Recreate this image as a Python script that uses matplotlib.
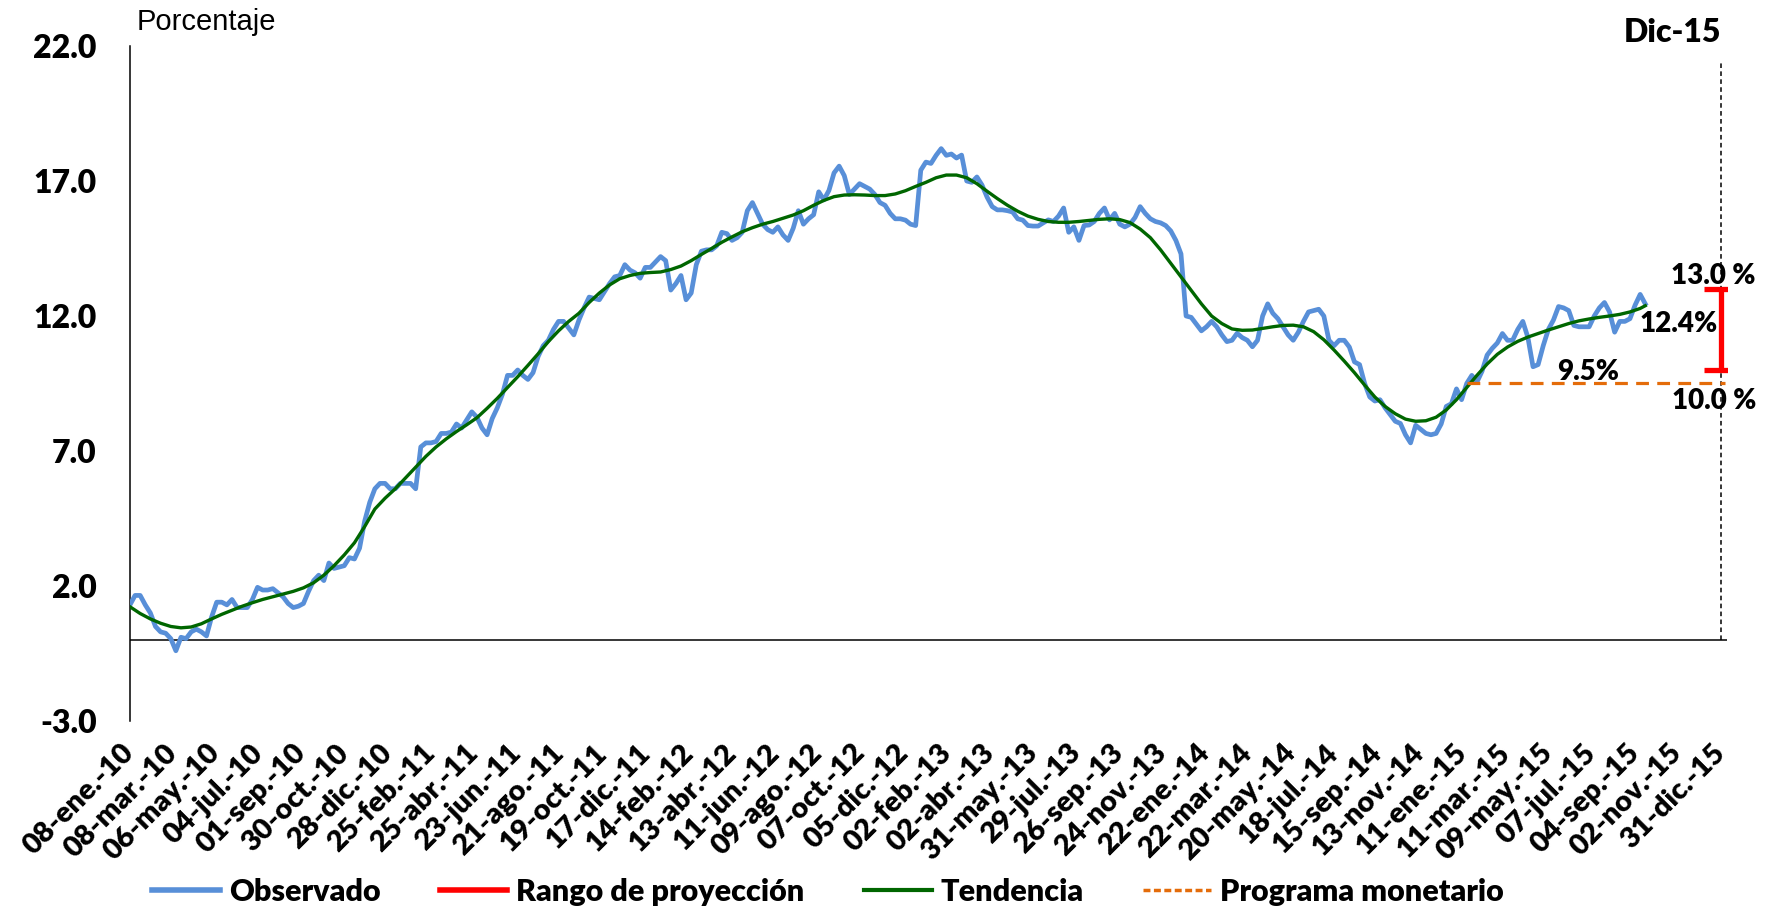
import matplotlib
matplotlib.use("Agg")
import matplotlib.pyplot as plt
from matplotlib.lines import Line2D
import pandas as pd

plt.rcParams['font.family'] = ['Lato', 'DejaVu Sans']

# Observado: datos semanales desde el 08-ene-10
observado = [
    1.3, 1.65, 1.65, 1.3, 1.0, 0.5, 0.3, 0.25, 0.05, -0.4,
    0.1, 0.05, 0.3, 0.4, 0.3, 0.15, 0.85, 1.4, 1.4, 1.3,
    1.5, 1.2, 1.2, 1.2, 1.5, 1.95, 1.85, 1.85, 1.9, 1.75,
    1.6, 1.35, 1.2, 1.25, 1.35, 1.8, 2.2, 2.4, 2.2, 2.85,
    2.65, 2.7, 2.75, 3.05, 3.0, 3.4, 4.4, 5.1, 5.6, 5.8,
    5.8, 5.6, 5.6, 5.8, 5.8, 5.8, 5.6, 7.15, 7.3, 7.3,
    7.35, 7.65, 7.65, 7.7, 8.0, 7.85, 8.15, 8.45, 8.25, 7.85,
    7.6, 8.2, 8.6, 9.1, 9.8, 9.8, 10.0, 9.8, 9.65, 9.9,
    10.5, 10.9, 11.1, 11.5, 11.8, 11.8, 11.55, 11.3, 11.85, 12.3,
    12.7, 12.65, 12.6, 12.9, 13.2, 13.45, 13.5, 13.9, 13.7, 13.6,
    13.4, 13.8, 13.8, 14.0, 14.2, 14.05, 12.96, 13.2, 13.5, 12.6,
    12.85, 13.9, 14.4, 14.45, 14.45, 14.6, 15.1, 15.05, 14.8, 14.9,
    15.1, 15.9, 16.2, 15.8, 15.4, 15.2, 15.1, 15.3, 15.0, 14.8,
    15.25, 15.9, 15.4, 15.6, 15.75, 16.6, 16.3, 16.65, 17.3, 17.55,
    17.2, 16.5, 16.7, 16.9, 16.8, 16.7, 16.5, 16.2, 16.1, 15.8,
    15.6, 15.6, 15.55, 15.4, 15.35, 17.4, 17.7, 17.65, 17.95, 18.2,
    17.95, 18.0, 17.85, 17.96, 17.0, 16.95, 17.15, 16.85, 16.4, 16.05,
    15.93, 15.93, 15.9, 15.85, 15.6, 15.55, 15.35, 15.33, 15.33, 15.45,
    15.56, 15.5, 15.7, 16.0, 15.1, 15.3, 14.8, 15.35, 15.37, 15.5,
    15.8, 16.0, 15.56, 15.8, 15.4, 15.3, 15.4, 15.65, 16.05, 15.8,
    15.6, 15.5, 15.45, 15.35, 15.15, 14.8, 14.3, 12.0, 11.95, 11.7,
    11.45, 11.6, 11.8, 11.6, 11.3, 11.05, 11.1, 11.36, 11.2, 11.1,
    10.86, 11.1, 12.0, 12.45, 12.1, 11.9, 11.6, 11.3, 11.1, 11.4,
    11.8, 12.15, 12.2, 12.25, 12.0, 11.1, 10.9, 11.1, 11.1, 10.85,
    10.3, 10.2, 9.5, 9.0, 8.85, 8.9, 8.6, 8.35, 8.1, 8.02,
    7.6, 7.3, 7.95, 7.8, 7.65, 7.6, 7.65, 8.0, 8.65, 8.75,
    9.3, 8.9, 9.5, 9.8, 9.55, 9.95, 10.55, 10.8, 11.0, 11.35,
    11.1, 11.1, 11.5, 11.8, 11.2, 10.12, 10.2, 10.9, 11.5, 11.85,
    12.35, 12.3, 12.2, 11.65, 11.6, 11.6, 11.6, 12.0, 12.3, 12.5,
    12.15, 11.4, 11.8, 11.8, 11.9, 12.4, 12.8, 12.45,
]

# Tendencia: cada 2 semanas desde el 08-ene-10, más el último dato
tendencia = [
    1.23, 0.98, 0.78, 0.62, 0.5, 0.45, 0.48, 0.6, 0.78, 0.95,
    1.1, 1.25, 1.38, 1.5, 1.6, 1.7, 1.8, 1.93, 2.12, 2.4,
    2.75, 3.15, 3.6, 4.2, 4.85, 5.25, 5.6, 6.0, 6.4, 6.8,
    7.15, 7.45, 7.72, 7.97, 8.23, 8.58, 8.95, 9.35, 9.75, 10.17,
    10.6, 11.05, 11.45, 11.8, 12.1, 12.5, 12.85, 13.15, 13.38, 13.5,
    13.58, 13.61, 13.63, 13.72, 13.85, 14.05, 14.28, 14.5, 14.73, 14.93,
    15.12, 15.27, 15.4, 15.5, 15.62, 15.74, 15.9, 16.1, 16.28, 16.42,
    16.48, 16.49, 16.48, 16.46, 16.46, 16.52, 16.64, 16.8, 16.95, 17.12,
    17.22, 17.22, 17.12, 16.9, 16.62, 16.35, 16.1, 15.88, 15.7, 15.58,
    15.5, 15.47, 15.47, 15.5, 15.54, 15.58, 15.6, 15.57, 15.46, 15.22,
    14.9, 14.45, 13.95, 13.45, 12.95, 12.45, 12.0, 11.72, 11.52, 11.47,
    11.48, 11.54, 11.6, 11.65, 11.66, 11.6, 11.42, 11.12, 10.74, 10.33,
    9.9, 9.44, 9.0, 8.65, 8.38, 8.18, 8.1, 8.12, 8.25, 8.52,
    8.9, 9.35, 9.8, 10.22, 10.58, 10.85, 11.06, 11.22, 11.35, 11.48,
    11.6, 11.72, 11.82, 11.89, 11.95, 12.0, 12.06, 12.15, 12.28, 12.38,
]

rango_min = 10.0
rango_max = 13.0
programa = 9.5
programa_desde = "2015-01-16"
programa_hasta = "2016-01-06"
fecha_meta = "2015-12-31"

tick_labels = [
    "08-ene.-10", "08-mar.-10", "06-may.-10", "04-jul.-10", "01-sep.-10",
    "30-oct.-10", "28-dic.-10", "25-feb.-11", "25-abr.-11", "23-jun.-11",
    "21-ago.-11", "19-oct.-11", "17-dic.-11", "14-feb.-12", "13-abr.-12",
    "11-jun.-12", "09-ago.-12", "07-oct.-12", "05-dic.-12", "02-feb.-13",
    "02-abr.-13", "31-may.-13", "29-jul.-13", "26-sep.-13", "24-nov.-13",
    "22-ene.-14", "22-mar.-14", "20-may.-14", "18-jul.-14", "15-sep.-14",
    "13-nov.-14", "11-ene.-15", "11-mar.-15", "09-may.-15", "07-jul.-15",
    "04-sep.-15", "02-nov.-15", "31-dic.-15",
]

obs_dates = pd.date_range("2010-01-08", periods=len(observado), freq="7D")
tend_dates = pd.date_range("2010-01-08", periods=len(tendencia) - 1, freq="14D")
tend_dates = tend_dates.append(pd.DatetimeIndex([obs_dates[-1]]))
tick_dates = pd.date_range("2010-01-08", periods=len(tick_labels), freq="59D")

c_obs = "#588fd8"
c_tend = "#006600"
c_rango = "#ff0000"
c_prog = "#e46c0a"
peso = "heavy"

fig = plt.figure(figsize=(17.73, 9.11), dpi=100)
ax = fig.add_axes([0.0733, 0.2086, 0.9007, 0.7409])

ax.plot(obs_dates, observado, color=c_obs, lw=3.4, solid_joinstyle="round", zorder=3)
ax.plot(tend_dates, tendencia, color=c_tend, lw=2.4, zorder=4)
ax.plot(pd.to_datetime([programa_desde, programa_hasta]), [programa, programa],
        color=c_prog, lw=2.3, dashes=(4, 2.6), zorder=4)

meta = pd.Timestamp(fecha_meta)
ax.plot([meta, meta], [0, 21.4], color="black", lw=1.1, dashes=(3, 2.2), zorder=2)
ax.errorbar([meta], [(rango_min + rango_max) / 2], yerr=[[(rango_max - rango_min) / 2]],
            fmt="none", ecolor=c_rango, elinewidth=3.8, capsize=12, capthick=3.8, zorder=5)

ax.axhline(0, color="black", lw=1.1, zorder=1)

ax.set_ylim(-3, 22)
ax.set_xlim(pd.Timestamp("2010-01-08"), pd.Timestamp("2016-01-08"))
ax.set_yticks([-3, 2, 7, 12, 17, 22])
ax.set_yticklabels([f"{v:.1f}" for v in [-3, 2, 7, 12, 17, 22]], fontsize=23, fontweight=peso)
ax.tick_params(axis="y", length=0, pad=24)
ax.set_xticks(tick_dates)
ax.set_xticklabels(tick_labels, fontsize=21, fontweight=peso, rotation=45,
                   ha="right", va="center", rotation_mode="anchor")
ax.tick_params(axis="x", length=0, pad=20)

for s in ["top", "right", "bottom"]:
    ax.spines[s].set_visible(False)
ax.spines["left"].set_linewidth(1.1)

ax.text(pd.Timestamp("2010-01-17"), 22.9, "Porcentaje", fontsize=21,
        family=["Liberation Sans", "DejaVu Sans"], va="center", ha="left", clip_on=False)
ax.text(meta, 22.5, "Dic-15", fontsize=23, fontweight=peso, ha="right", va="center", clip_on=False)
ax.text(pd.Timestamp("2015-12-20"), 13.48, "13.0 %", fontsize=20, fontweight=peso, ha="center", va="center")
ax.text(pd.Timestamp("2015-12-21"), 8.85, "10.0 %", fontsize=20, fontweight=peso, ha="center", va="center")
ax.text(pd.Timestamp("2015-11-03"), 11.7, "12.4%", fontsize=20, fontweight=peso, ha="center", va="center")
ax.text(pd.Timestamp("2015-07-01"), 9.93, "9.5%", fontsize=20, fontweight=peso, ha="center", va="center")

handles = [
    Line2D([], [], color=c_obs, lw=4),
    Line2D([], [], color=c_rango, lw=4),
    Line2D([], [], color=c_tend, lw=3),
    Line2D([], [], color=c_prog, lw=2.5, dashes=(2, 1)),
]
labels = ["Observado", "Rango de proyección", "Tendencia", "Programa monetario"]
fig.legend(handles, labels, loc="center", bbox_to_anchor=(0.467, 0.021), ncol=4,
           frameon=False, prop={"size": 22, "weight": peso},
           handlelength=2.2, handletextpad=0.3, columnspacing=1.95)

fig.savefig("out.png", dpi=100)
